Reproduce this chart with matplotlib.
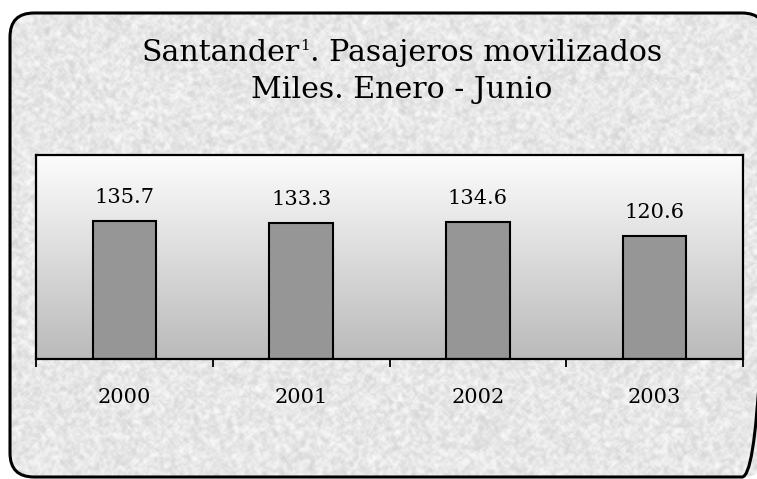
import numpy as np
import matplotlib
matplotlib.use('Agg')
import matplotlib.pyplot as plt
from matplotlib.patches import FancyBboxPatch

years = ['2000', '2001', '2002', '2003']
pasajeros = [135.7, 133.3, 134.6, 120.6]

W, H = 757, 479
fig = plt.figure(figsize=(W / 100, H / 100), dpi=100)
fig.patch.set_facecolor('white')

# fondo con textura tipo granito dentro del recuadro redondeado
bg = fig.add_axes([0, 0, 1, 1])
bg.set_xlim(0, W)
bg.set_ylim(H, 0)
bg.axis('off')

rng = np.random.default_rng(3)
noise = rng.random((H // 2 + 2, W // 2 + 2))
sm = np.zeros_like(noise)
for dy in range(-1, 2):
    for dx in range(-1, 2):
        sm += np.roll(np.roll(noise, dy, 0), dx, 1) / 9.0
tex = 0.6 * sm + 0.4 * noise
tex = (tex - tex.min()) / (tex.max() - tex.min())
tex = 0.82 + 0.17 * tex

box = FancyBboxPatch((10, 13), 756, 464, boxstyle='round,pad=0,rounding_size=24',
                     facecolor='none', edgecolor='black', linewidth=2.2, zorder=3)
bg.add_patch(box)
img = bg.imshow(tex, cmap='gray', vmin=0, vmax=1, extent=(0, W, H, 0),
                interpolation='bilinear', zorder=1)
img.set_clip_path(box)

# titulo (superindice dibujado aparte)
fs = 21.6
r = fig.canvas.get_renderer()
parts = ['Santander', '1', '. Pasajeros movilizados']
sizes = [fs, 11, fs]
tmp = [fig.text(0, 0, p, fontsize=s, family='DejaVu Serif') for p, s in zip(parts, sizes)]
widths = [t.get_window_extent(r).width for t in tmp]
for t in tmp:
    t.remove()
x0 = 402 - sum(widths) / 2
base1 = H - 61
offs = [0, 11, 0]
for p, s, w, o in zip(parts, sizes, widths, offs):
    fig.text(x0 / W, (base1 + o) / H, p, fontsize=s, family='DejaVu Serif',
             ha='left', va='baseline')
    x0 += w
fig.text(402 / W, (H - 98) / H, 'Miles. Enero - Junio', ha='center',
         va='baseline', fontsize=fs, family='DejaVu Serif')

# area de grafico
ax = fig.add_axes([36 / W, 1 - 359 / H, (743 - 36) / W, (359 - 155) / H])
ax.set_xlim(-0.5, 3.5)
ax.set_ylim(0, 200)
g = np.linspace(0.73, 0.99, 256).reshape(-1, 1)
grad = np.dstack([g, g, g])
ax.imshow(grad, aspect='auto', extent=(-0.5, 3.5, 0, 200), origin='lower',
          interpolation='bilinear', zorder=0)

x = np.arange(len(years))
ax.bar(x, pasajeros, width=0.36, color='#969696', edgecolor='black',
       linewidth=1.5, zorder=2)
for xi, v in zip(x, pasajeros):
    ax.text(xi, v + 23, f'{v:.1f}', ha='center', va='center', fontsize=15,
            family='DejaVu Serif')

for s in ax.spines.values():
    s.set_linewidth(1.6)
    s.set_color('black')
ax.set_yticks([])
ax.set_xticks(np.arange(-0.5, 4, 1.0))
ax.set_xticklabels([])
ax.tick_params(axis='x', which='major', direction='out', length=6, width=1.3)
ax.set_xticks(x, minor=True)
ax.set_xticklabels(years, minor=True, fontsize=15, family='DejaVu Serif')
ax.tick_params(axis='x', which='minor', length=0, pad=21)

fig.savefig('out.png', dpi=100)
